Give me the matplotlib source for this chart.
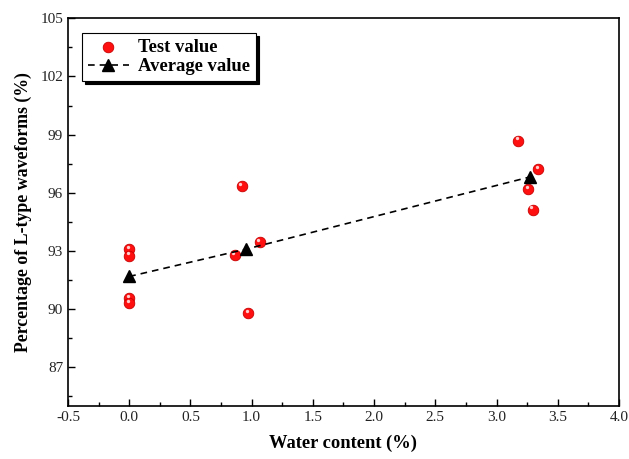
import matplotlib
matplotlib.use("Agg")
import matplotlib.pyplot as plt
from matplotlib.ticker import MultipleLocator

# ── data ─────────────────────────────────────────────────────────────────────
test_x = [0.0, 0.0, 0.0, 0.0, 0.92, 1.065, 0.86, 0.97, 3.175, 3.34, 3.26, 3.295]
test_y = [93.1, 92.75, 90.55, 90.3, 96.35, 93.46, 92.77, 89.79, 98.69, 97.23, 96.19, 95.12]

avg_x = [0.0, 0.954, 3.27]
avg_y = [91.68, 93.09, 96.81]

plt.rcParams["font.family"] = ["Liberation Serif", "DejaVu Serif"]
plt.rcParams["axes.unicode_minus"] = False

fig = plt.figure(figsize=(6.29, 4.59), dpi=100)
ax = fig.add_axes([0.1081, 0.1155, 0.876, 0.8447])

ax.scatter(test_x, test_y, s=58, color="#ff1010", edgecolors="#c80000",
           linewidths=0.6, zorder=3, label="Test value")
# small highlight to mimic the shaded spheres
for x, y in zip(test_x, test_y):
    ax.plot(x - 0.012, y + 0.12, "o", ms=2.4, color="#ffd0d0", mec="none", zorder=4)

ax.plot(avg_x, avg_y, "k--", lw=1.2, marker="^", ms=8.5, dashes=(4, 3),
        zorder=5, label="Average value")

ax.set_xlim(-0.5, 4.0)
ax.set_ylim(85, 105)
ax.xaxis.set_major_locator(MultipleLocator(0.5))
ax.xaxis.set_minor_locator(MultipleLocator(0.25))
ax.yaxis.set_minor_locator(MultipleLocator(1.5))
ax.set_yticks([87, 90, 93, 96, 99, 102, 105])
ax.tick_params(which="both", direction="in", top=False, right=False,
               labelsize=11, labelcolor="#222222")
ax.tick_params(which="major", length=5, width=1)
ax.tick_params(which="minor", length=3, width=1)
for s in ax.spines.values():
    s.set_linewidth(1.2)

ax.set_xlabel("Water content (%)", fontsize=13.3, fontweight="bold", labelpad=8)
ax.set_ylabel("Percentage of L-type waveforms (%)", fontsize=12.8,
              fontweight="bold", labelpad=6)

leg = ax.legend(loc="upper left", bbox_to_anchor=(0.026, 0.962),
                prop={"size": 13.4, "weight": "bold"}, fancybox=False,
                shadow={"color": "black", "alpha": 1}, edgecolor="black",
                framealpha=1, handlelength=2.2, handletextpad=0.5,
                borderpad=0.3, labelspacing=0.15, borderaxespad=0)
leg.get_frame().set_linewidth(0.8)

fig.savefig("out.png", dpi=100)
